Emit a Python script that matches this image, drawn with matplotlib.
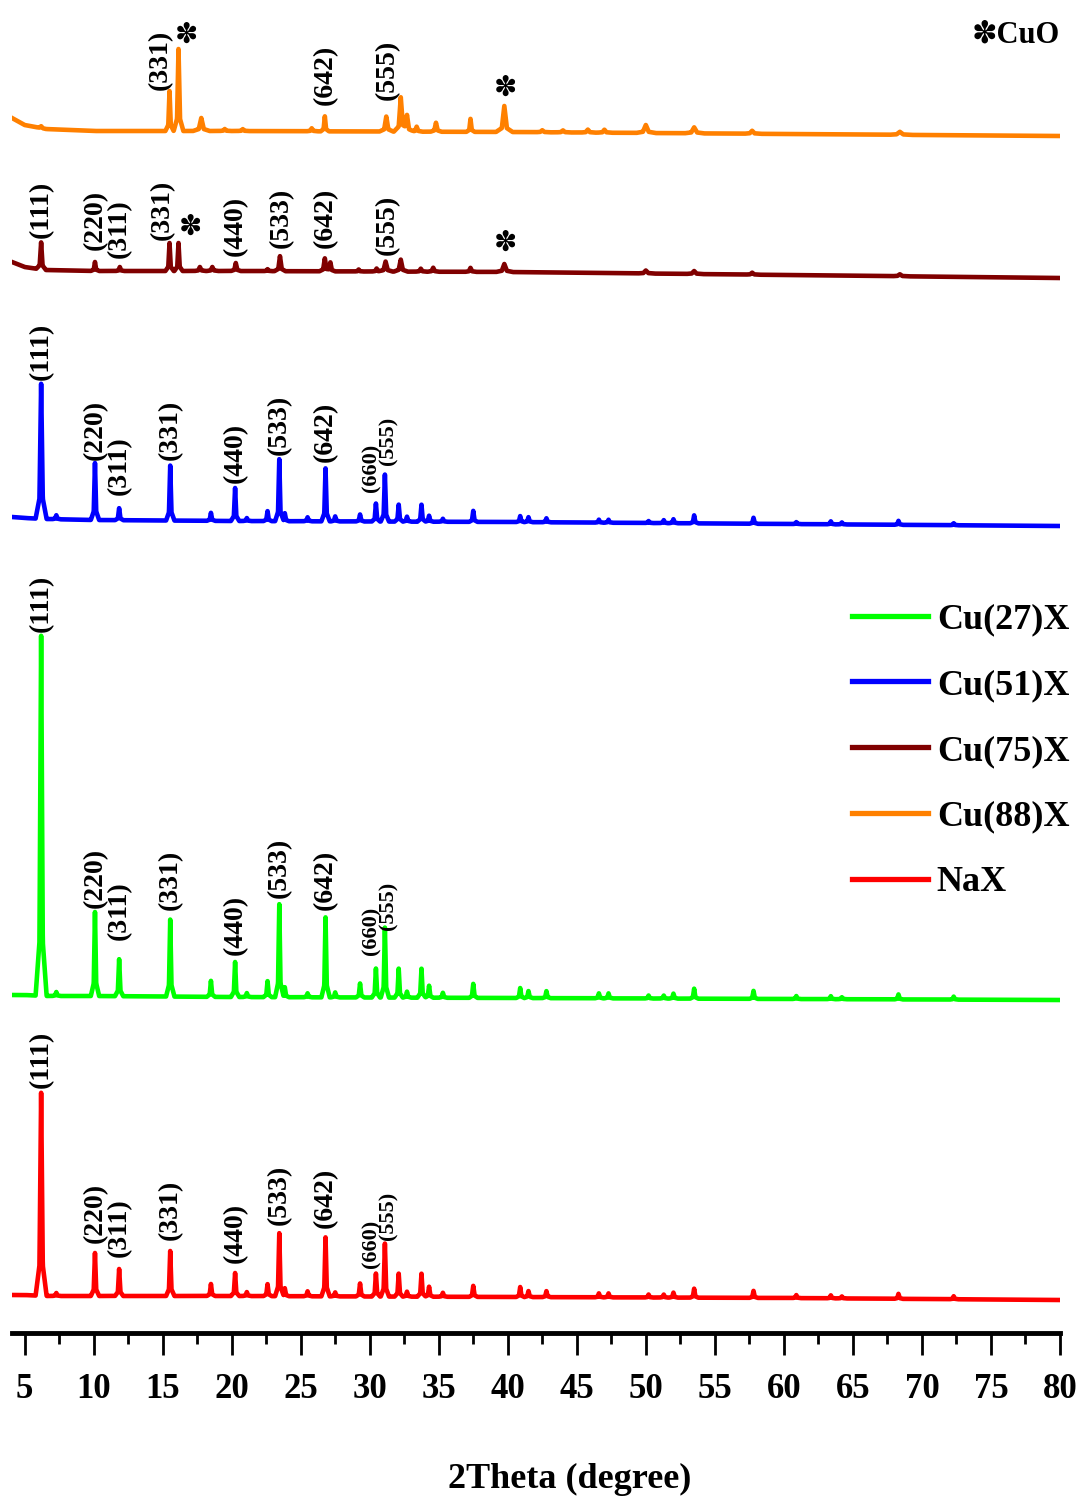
import numpy as np
import matplotlib
matplotlib.use("Agg")
import matplotlib.pyplot as plt
from matplotlib.ticker import MultipleLocator
from matplotlib.lines import Line2D

plt.rcParams['font.family'] = ['Liberation Serif', 'DejaVu Sans']
plt.rcParams['font.weight'] = 'bold'

# peak positions (2theta) and heights
zeo_pos = [6.2, 7.3, 10.1, 11.85, 15.55, 18.5, 20.25, 21.1, 22.6, 23.45, 23.85, 25.5,
           26.8, 27.5, 29.3, 30.45, 31.1, 32.1, 32.7, 33.75, 34.3, 35.3, 37.5, 40.9,
           41.5, 42.8, 46.6, 47.3, 50.2, 51.3, 52.0, 53.5, 57.8, 60.9, 63.4, 64.2, 68.3, 72.3]
nax_int = [203, 3, 43, 27, 45, 12, 23, 4, 12, 63, 8, 5, 59, 4, 13, 23, 53, 23, 5, 23,
           10, 4, 11, 10, 6, 6, 4, 4, 3, 3, 5, 9, 7, 3, 3, 2, 5, 3]
cu27_int = [360, 4, 84, 37, 77, 16, 35, 4, 16, 93, 10, 4, 80, 5, 14, 29, 70, 29, 6, 29,
            12, 5, 14, 10, 7, 7, 5, 5, 3, 3, 5, 10, 8, 3, 3, 2, 5, 3]
cu51_int = [135, 4, 57, 12, 55, 8, 33, 3, 10, 62, 8, 4, 53, 5, 7, 18, 47, 17, 5, 17,
            6, 3, 11, 6, 5, 4, 3, 3, 2, 3, 4, 8, 6, 2, 3, 2, 4, 2]
zeo_wid = [0.4] + [0.3] * (len(zeo_pos) - 1)

cu75_pos = [6.2, 10.1, 11.9, 15.5, 16.15, 17.7, 18.6, 20.3, 22.6, 23.5, 26.75, 27.15,
            29.2, 30.5, 31.15, 32.25, 33.7, 34.6, 37.3, 39.75, 50.0, 53.5, 57.7, 68.4]
cu75_int = [27, 9, 4, 28, 28, 4, 4, 8, 2, 15, 13, 9, 2, 3, 10, 12, 3, 4, 4, 8, 3, 3, 2, 2]
cu75_wid = [0.35, 0.3, 0.3, 0.3, 0.3, 0.4, 0.4, 0.35, 0.3, 0.4, 0.4, 0.35, 0.3, 0.35,
            0.5, 0.5, 0.4, 0.4, 0.4, 0.6, 0.6, 0.6, 0.5, 0.6]

cu88_pos = [6.2, 15.5, 16.15, 17.8, 19.5, 20.8, 25.8, 26.75, 31.2, 32.25, 32.7, 33.4,
            34.8, 37.3, 39.75, 42.5, 44.0, 45.8, 47.0, 50.0, 53.5, 57.7, 68.4]
cu88_int = [2, 40, 82, 13, 2, 2, 3, 15, 15, 34, 16, 5, 9, 13, 26, 2, 2, 3, 3, 8, 6, 3, 3]
cu88_wid = [0.4, 0.3, 0.35, 0.6, 0.4, 0.4, 0.4, 0.3, 0.5, 0.5, 0.5, 0.4, 0.4, 0.3, 0.6,
            0.5, 0.5, 0.5, 0.5, 0.7, 0.7, 0.6, 0.8]

# background drift
base_x = [4.09, 5.0, 6.5, 10, 20, 40, 60, 80]
nax_drift = [1, 1, 0, 0, 0, -1, -2, -4]
cu27_drift = [1, 1, 0, 0, -1, -2, -3, -4]
cu51_drift = [3, 2, 1, 0, -1, -2, -4, -6]
cu75_drift = [9, 4, 1, 0, 0, -1, -4, -7]
cu88_drift = [13, 6, 2, 0, 0, -1, -3, -5]

names = ['Cu(27)X', 'Cu(51)X', 'Cu(75)X', 'Cu(88)X', 'NaX']
colors = ['#00ff00', '#0000ff', '#800000', '#ff8000', '#ff0000']
offsets = [337, 813, 1062, 1202, 37]

hkl = ['(111)', '(220)', '(311)', '(331)', '(440)', '(533)', '(642)']
hkl_x = [6.2, 10.1, 11.85, 15.55, 20.25, 23.45, 26.8]


def trace(pos, inten, wid, drift, off):
    xs = np.union1d(np.linspace(4.09, 80, 6000), pos)
    y = np.interp(xs, base_x, drift) + off
    for p, h, w in zip(pos, inten, wid):
        y += np.interp(xs, [p - w, p - 0.3 * w, p, p + 0.3 * w, p + w],
                       [0, 0.15 * h, h, 0.15 * h, 0])
    return xs, y


fig = plt.figure(figsize=(10.81, 15.06), dpi=100)
ax = fig.add_axes([12 / 1081, 173 / 1506, 1048 / 1081, 1333 / 1506])

series = [(zeo_pos, cu27_int, zeo_wid, cu27_drift),
          (zeo_pos, cu51_int, zeo_wid, cu51_drift),
          (cu75_pos, cu75_int, cu75_wid, cu75_drift),
          (cu88_pos, cu88_int, cu88_wid, cu88_drift),
          (zeo_pos, nax_int, zeo_wid, nax_drift)]
for (p, i, w, d), off, c in zip(series, offsets, colors):
    xs, ys = trace(p, i, w, d, off)
    ax.plot(xs, ys, color=c, lw=3.3)

lab = dict(rotation=90, ha='center', va='bottom', fontsize=20, fontweight='bold')
small = dict(rotation=90, ha='center', va='bottom', fontsize=16, fontweight='bold')

# NaX, Cu(27)X, Cu(51)X labels
for bottoms, b660, b555 in [([245, 90, 76, 93, 70, 108, 105], 65, 93),
                            ([701, 425, 393, 423, 378, 435, 423], 378, 403),
                            ([953, 873, 838, 873, 850, 878, 871], 841, 868)]:
    for t, x, b in zip(hkl, hkl_x, bottoms):
        ax.text(x, b, t, **lab)
    ax.text(30.1, b660, '(660)', **small)
    ax.text(31.35, b555, '(555)', **small)

# Cu(75)X labels
for t, x, b in zip(hkl + ['(555)'], [6.2, 10.1, 11.85, 15.0, 20.3, 23.6, 26.8, 31.3],
                   [1095, 1083, 1075, 1093, 1077, 1085, 1085, 1078]):
    ax.text(x, b, t, **lab)
# Cu(88)X labels
for t, x, b in zip(['(331)', '(642)', '(555)'], [14.85, 26.8, 31.3], [1243, 1228, 1233]):
    ax.text(x, b, t, **lab)

star = dict(ha='center', va='center', fontsize=20, family=['DejaVu Sans'])
for x, y in [(16.95, 1106), (39.75, 1090), (16.65, 1298), (39.75, 1245)]:
    ax.text(x, y, '\u273d', **star)
ax.text(80, 1298, '\u273dCuO', ha='right', va='center', fontsize=22, fontweight='bold')

ax.set_xlim(4.09, 80)
ax.set_ylim(0, 1333)
ax.set_yticks([])
for s in ['left', 'right', 'top']:
    ax.spines[s].set_visible(False)
ax.spines['bottom'].set_linewidth(3.5)
ax.xaxis.set_major_locator(MultipleLocator(5))
ax.xaxis.set_minor_locator(MultipleLocator(2.5))
ax.tick_params(axis='x', which='major', length=16, width=2, labelsize=25, pad=13)
ax.tick_params(axis='x', which='minor', length=8, width=2)
for t in ax.get_xticklabels():
    t.set_fontweight('bold')
ax.set_xlabel('2Theta (degree)', fontsize=26, fontweight='bold', va='center')
ax.xaxis.set_label_coords(0.532, -0.110)

handles = [Line2D([], [], color=c, lw=3.8) for c in colors]
ax.legend(handles, names, loc='upper left', bbox_to_anchor=(852 / 1081, 1 - 603 / 1506),
          bbox_transform=fig.transFigure, frameon=False,
          handlelength=2.1, handletextpad=0.25, labelspacing=0.9,
          borderpad=0, borderaxespad=0, prop={'weight': 'bold', 'size': 26})

fig.savefig('out.png', dpi=100)
